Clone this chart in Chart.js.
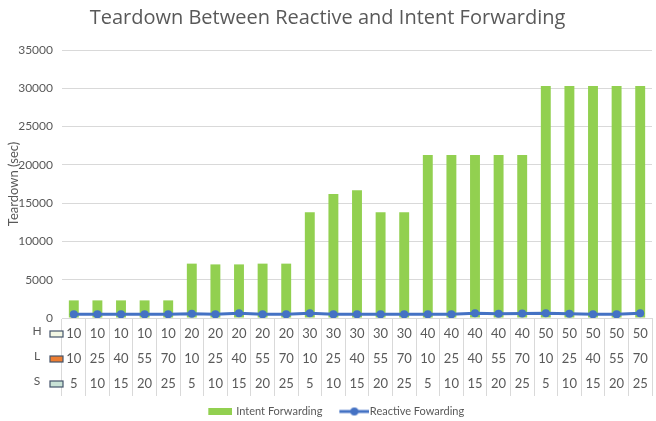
<!DOCTYPE html>
<html>
<head>
<meta charset="utf-8">
<title>Teardown Between Reactive and Intent Forwarding</title>
<script src="https://cdn.jsdelivr.net/npm/chart.js@4.4.0/dist/chart.umd.min.js"></script>
<style>
  html, body { margin: 0; padding: 0; background: #fff; }
  #wrap { width: 656px; height: 421px; position: relative; }
</style>
</head>
<body>
<div id="wrap"><canvas id="teardownChart"></canvas></div>
<script>
// table rows shown under the x axis
const hValues = [10, 10, 10, 10, 10, 20, 20, 20, 20, 20, 30, 30, 30, 30, 30, 40, 40, 40, 40, 40, 50, 50, 50, 50, 50];
const lValues = [10, 25, 40, 55, 70, 10, 25, 40, 55, 70, 10, 25, 40, 55, 70, 10, 25, 40, 55, 70, 10, 25, 40, 55, 70];
const sValues = [5, 10, 15, 20, 25, 5, 10, 15, 20, 25, 5, 10, 15, 20, 25, 5, 10, 15, 20, 25, 5, 10, 15, 20, 25];

// series (sec)
const intentValues = [2300, 2300, 2300, 2300, 2300, 7100, 7000, 7000, 7100, 7100,
                      13800, 16200, 16700, 13800, 13800, 21300, 21300, 21300, 21300, 21300,
                      30300, 30300, 30300, 30300, 30300];
const reactiveValues = [480, 480, 480, 480, 480, 560, 480, 620, 480, 480,
                        620, 480, 480, 480, 480, 480, 480, 620, 560, 600,
                        620, 560, 480, 480, 620];

const yTicks = [0, 5000, 10000, 15000, 20000, 25000, 30000, 35000];
const rowNames = ['H', 'L', 'S'];
const rowKeyColors = ['#f3f7e4', '#ed7d31', '#c9e3d6'];

const categories = hValues.map((h, i) => h + '/' + lValues[i] + '/' + sValues[i]);

const TEXT = '#595959';
const GREEN = '#92d050';
const BLUE = '#4472c4';
const FONT = "Lato, sans-serif";
const TITLE_FONT = "'Open Sans', sans-serif";

// legend swatches (transparent margin on the left gives the item spacing)
function barSwatch() {
    const c = document.createElement('canvas');
    c.width = 43; c.height = 7;
    const g = c.getContext('2d');
    g.fillStyle = GREEN;
    g.fillRect(19, 0, 24, 7);
    return c;
}
function lineSwatch() {
    const c = document.createElement('canvas');
    c.width = 50; c.height = 10;
    const g = c.getContext('2d');
    g.strokeStyle = BLUE;
    g.lineWidth = 3;
    g.beginPath(); g.moveTo(20, 5); g.lineTo(50, 5); g.stroke();
    g.fillStyle = BLUE;
    g.beginPath(); g.arc(35, 5, 4, 0, Math.PI * 2); g.fill();
    return c;
}

// draws the H / L / S data table under the axis
const dataTable = {
    id: 'dataTable',
    afterDraw(chart) {
        const ctx = chart.ctx;
        const x = chart.scales.x;
        const rows = [hValues, lValues, sValues];
        const rowY = [334, 359, 384];
        ctx.save();
        ctx.fillStyle = TEXT;
        ctx.textBaseline = 'middle';
        rows.forEach((vals, r) => {
            ctx.textAlign = 'center';
            ctx.font = '13px ' + FONT;
            vals.forEach((v, i) => {
                ctx.fillText(String(v), x.getPixelForValue(i), rowY[r]);
            });
            ctx.font = '12px ' + FONT;
            ctx.fillText(rowNames[r], 37, rowY[r] - 3);
            // legend key
            ctx.fillStyle = rowKeyColors[r];
            ctx.fillRect(50, rowY[r] - 3, 13, 6);
            ctx.strokeStyle = '#44546a';
            ctx.lineWidth = 1.2;
            ctx.strokeRect(50, rowY[r] - 3, 13, 6);
            ctx.fillStyle = TEXT;
        });
        ctx.restore();
    }
};

const ctx = document.getElementById('teardownChart').getContext('2d');
const chart = new Chart(ctx, {
    type: 'bar',
    data: {
        labels: categories,
        datasets: [{
            type: 'line',
            label: 'Reactive Fowarding',
            data: reactiveValues,
            borderColor: BLUE,
            backgroundColor: BLUE,
            borderWidth: 3,
            pointRadius: 4,
            pointBackgroundColor: BLUE,
            pointBorderWidth: 0,
            tension: 0,
            order: 1
        }, {
            type: 'bar',
            label: 'Intent Forwarding',
            data: intentValues,
            backgroundColor: GREEN,
            barPercentage: 0.42,
            categoryPercentage: 1,
            order: 2
        }]
    },
    options: {
        responsive: true,
        maintainAspectRatio: false,
        animation: false,
        layout: { padding: { left: 0, right: 1, top: 0, bottom: -6 } },
        plugins: {
            title: {
                display: true,
                text: 'Teardown Between Reactive and Intent Forwarding',
                color: TEXT,
                font: { family: TITLE_FONT, size: 20, weight: 'normal' },
                padding: { top: 6, bottom: 20 }
            },
            legend: {
                position: 'bottom',
                reverse: true,
                labels: {
                    color: TEXT,
                    font: { family: FONT, size: 11 },
                    usePointStyle: true,
                    pointStyleWidth: 40,
                    padding: 2,
                    generateLabels(chart) {
                        return chart.data.datasets.map((ds, i) => ({
                            text: ds.label,
                            datasetIndex: i,
                            fontColor: TEXT,
                            pointStyle: ds.type === 'line' ? lineSwatch() : barSwatch(),
                            lineWidth: 0,
                            hidden: false
                        }));
                    }
                }
            },
            tooltip: { enabled: false }
        },
        scales: {
            x: {
                grid: {
                    drawOnChartArea: false,
                    drawTicks: true,
                    tickLength: 78,
                    color: '#d9d9d9',
                    offset: true
                },
                border: { color: '#d9d9d9' },
                ticks: { display: false },
                afterFit(scale) { scale.height = 86; }
            },
            y: {
                min: 0,
                max: 35000,
                afterBuildTicks(scale) { scale.ticks = yTicks.map(v => ({ value: v })); },
                grid: { color: '#d9d9d9', drawTicks: false },
                border: { display: false },
                ticks: {
                    color: TEXT,
                    font: { family: FONT, size: 12 },
                    padding: 9,
                    callback: v => String(v)
                },
                title: {
                    display: true,
                    text: 'Teardown (sec)',
                    color: TEXT,
                    font: { family: FONT, size: 13 },
                    padding: { top: 6, bottom: 0 }
                },
                afterFit(scale) { scale.width = 62; }
            }
        }
    },
    plugins: [dataTable]
});
</script>
</body>
</html>
